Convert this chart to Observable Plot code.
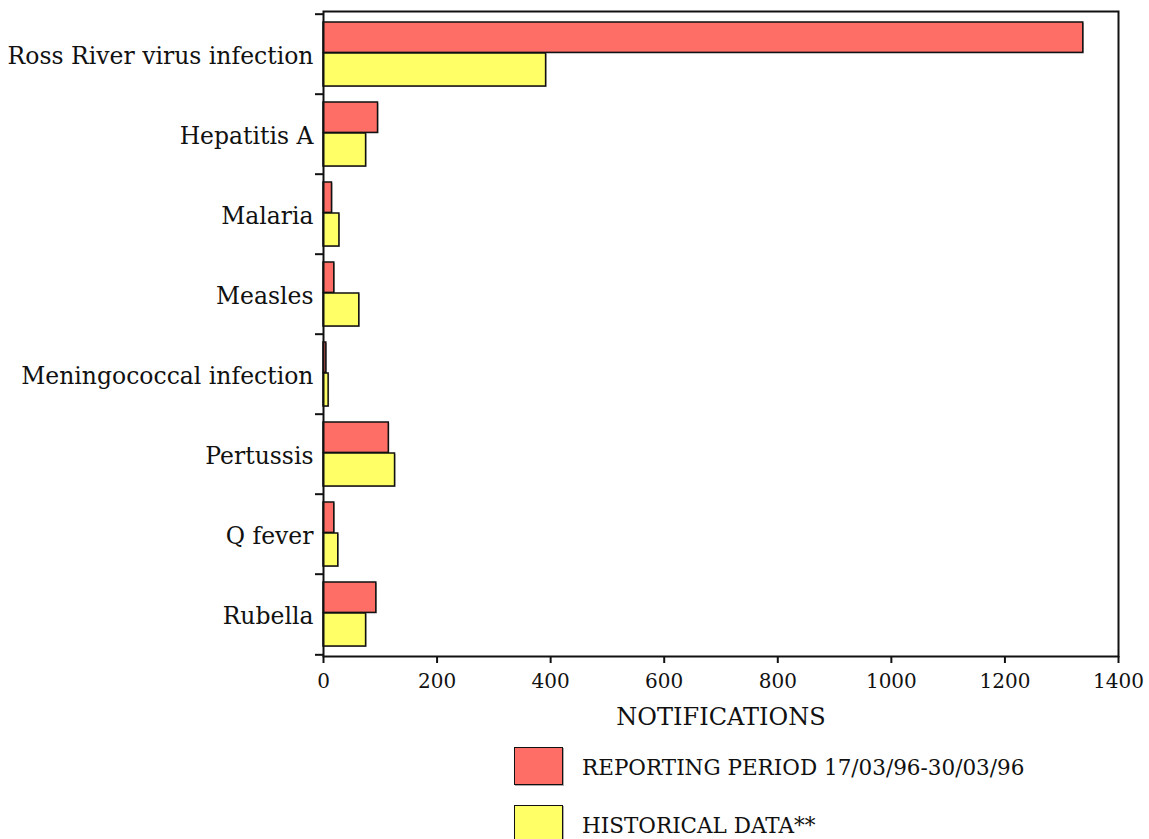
<!DOCTYPE html>
<html>
<head>
<meta charset="utf-8">
<script src="https://cdn.jsdelivr.net/npm/d3@7"></script>
<script src="https://cdn.jsdelivr.net/npm/@observablehq/plot@0.6"></script>
<style>
  html, body { margin: 0; padding: 0; background: white; }
  #wrap { position: relative; width: 1149px; height: 839px; overflow: hidden; font-family: "DejaVu Serif", serif; }
  .sw { position: absolute; left: 514px; width: 47px; height: 36px; border: 1.5px solid #111; box-shadow: 1px 1px 0 #aaa; }
  .lt { position: absolute; left: 582px; font-size: 21.5px; color: #111; white-space: nowrap; line-height: 1; }
</style>
</head>
<body>
<div id="wrap"></div>
<script>
const categories = ["Ross River virus infection", "Hepatitis A", "Malaria", "Measles", "Meningococcal infection", "Pertussis", "Q fever", "Rubella"];
const reporting = [1338, 96, 15, 19, 5, 115, 19, 93];
const historical = [392, 75, 28, 63, 9, 126, 26, 75];
const xTicks = [0, 200, 400, 600, 800, 1000, 1200, 1400];
const seriesNames = ["REPORTING PERIOD 17/03/96-30/03/96", "HISTORICAL DATA**"];
const seriesColors = ["#ff6e66", "#ffff66"];
const xLabel = "NOTIFICATIONS";

const rows = categories.map((c, i) => ({category: c, reporting: reporting[i], historical: historical[i]}));

const H = 735, MT = 11, MB = 79;
const band = (H - MT - MB) / categories.length;

const chart = Plot.plot({
  width: 1149,
  height: H,
  marginTop: MT,
  marginBottom: MB,
  marginLeft: 323,
  marginRight: 31,
  style: {fontFamily: "DejaVu Serif, serif", fontSize: "20px", color: "#111", background: "white"},
  x: {domain: [0, 1400], ticks: xTicks},
  y: {domain: categories, padding: 0},
  marks: [
    Plot.barX(rows, {x: "reporting", y: "category", insetTop: 8, insetBottom: band - 39, fill: "#aaa", dx: 1, dy: 1}),
    Plot.barX(rows, {x: "historical", y: "category", insetTop: 39, insetBottom: 8, fill: "#aaa", dx: 1, dy: 1}),
    Plot.barX(rows, {x: "reporting", y: "category", insetTop: 8, insetBottom: band - 39, fill: seriesColors[0], stroke: "#111", strokeWidth: 1.5}),
    Plot.barX(rows, {x: "historical", y: "category", insetTop: 39, insetBottom: 8, fill: seriesColors[1], stroke: "#111", strokeWidth: 1.5}),
    Plot.frame({stroke: "#111", strokeWidth: 2}),
    Plot.axisY({tickSize: 0, tickPadding: 10, label: null, fontSize: 23.5, dy: 2}),
    Plot.axisY({tickSize: 8, tickFormat: () => "", label: null, strokeWidth: 2, dy: -band / 2}),
    Plot.axisY({ticks: [categories[categories.length - 1]], tickSize: 8, tickFormat: () => "", label: null, strokeWidth: 2, dy: band / 2}),
    Plot.axisX({ticks: xTicks, tickSize: 7, tickPadding: 10, strokeWidth: 2, fontSize: 20, tickFormat: "d", label: null}),
    Plot.axisX({ticks: [], label: xLabel, labelAnchor: "center", labelArrow: "none", labelOffset: 68, fontSize: 24})
  ]
});

const wrap = document.getElementById("wrap");
wrap.appendChild(chart);

const tops = [747, 805];
seriesNames.forEach((name, i) => {
  const sw = document.createElement("div");
  sw.className = "sw";
  sw.style.top = tops[i] + "px";
  sw.style.background = seriesColors[i];
  wrap.appendChild(sw);
  const t = document.createElement("div");
  t.className = "lt";
  t.style.top = (tops[i] + 10) + "px";
  t.textContent = name;
  wrap.appendChild(t);
});
</script>
</body>
</html>
